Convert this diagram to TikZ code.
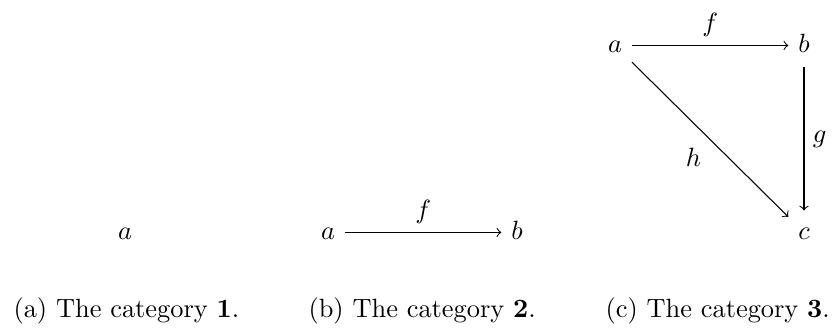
\documentclass[tikz,border=0pt]{standalone}
\usetikzlibrary{arrows}
\begin{document}
\begin{tikzpicture}[x=0.3788pt,y=-0.3788pt,
  obj/.style={inner sep=3.6pt, text height=7pt, text depth=2pt},
  mor/.style={->, >=to, line width=0.4pt},
  lbl/.style={inner sep=3.2pt, font=\normalsize},
  captext/.style={anchor=base west, inner sep=0pt}]
\useasboundingbox (0,0) rectangle (833,329);
% (a)
\node[obj] (a1) at (125,232.4) {$a$};
% (b)
\node[obj] (a2) at (328,232.4) {$a$};
\node[obj] (b2) at (517,232.4) {$b$};
\draw[mor] (a2) -- node[lbl, above] {$f$} (b2);
% (c)
\node[obj] (a3) at (615,45.4) {$a$};
\node[obj] (b3) at (804,45.4) {$b$};
\node[obj] (c3) at (804,232.4) {$c$};
\draw[mor] (a3) -- node[lbl, above] {$f$} (b3);
\draw[mor] (b3) -- node[lbl, right] {$g$} (c3);
\draw[mor] (a3) -- node[lbl, below left] {$h$} (c3);
% captions
\node[captext] (ca) at (13,317) {(a) The category $\mathbf{1}$.};
\node[captext] (cb) at (308,317) {(b) The category $\mathbf{2}$.};
\node[captext] (cc) at (605,317) {(c) The category $\mathbf{3}$.};
\end{tikzpicture}
\end{document}
